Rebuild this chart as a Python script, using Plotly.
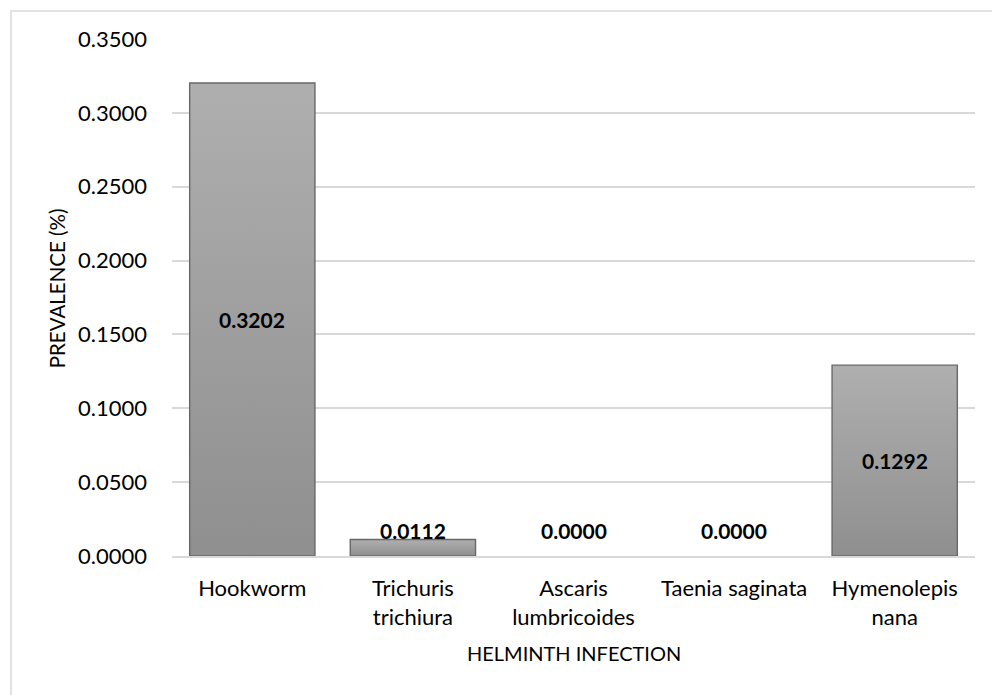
import plotly.graph_objects as go

# Prevalence of helminth infections
categories = ["Hookworm", "Trichuris<br>trichiura", "Ascaris<br>lumbricoides",
              "Taenia saginata", "Hymenolepis<br>nana"]
prevalence = [0.3202, 0.0112, 0.0000, 0.0000, 0.1292]

FONT = "Lato, Calibri, Carlito, sans-serif"
BAR_HALF = 0.39          # half the bar width in category units
LABEL_MIN = 0.0172       # lowest position for a value label inside / above a bar

fig = go.Figure()

# Bars drawn as filled polygons so they can carry a vertical grey gradient
for i, v in enumerate(prevalence):
    if v <= 0:
        continue
    fig.add_trace(go.Scatter(
        x=[i - BAR_HALF, i + BAR_HALF, i + BAR_HALF, i - BAR_HALF, i - BAR_HALF],
        y=[0, 0, v, v, 0],
        mode="lines",
        fill="toself",
        fillgradient=dict(type="vertical",
                          colorscale=[[0, "#8f8f8f"], [1, "#afafaf"]]),
        line=dict(color="#686868", width=1.4),
        hoverinfo="skip",
        showlegend=False,
    ))

# Value labels
for i, v in enumerate(prevalence):
    fig.add_annotation(
        x=i, y=max(v / 2, LABEL_MIN), xref="x", yref="y",
        text=f"<b>{v:.4f}</b>", showarrow=False,
        font=dict(family=FONT, size=21, color="#000000"),
    )

# Axis titles
fig.add_annotation(
    x=0.5, y=-0.188, xref="paper", yref="paper", yanchor="middle",
    text="HELMINTH INFECTION", showarrow=False,
    font=dict(family=FONT, size=20, color="#000000"),
)
fig.add_annotation(
    x=-0.143, y=0.518, xref="paper", yref="paper", xanchor="center",
    text="PREVALENCE (%)", textangle=-90, showarrow=False,
    font=dict(family=FONT, size=20.5, color="#000000"),
)

# Light frame around the chart area
fig.add_shape(type="rect", xref="paper", yref="paper",
              x0=-0.2005, x1=1.05, y0=-0.3, y1=1.054,
              line=dict(color="#d9d9d9", width=1.5), fillcolor="rgba(0,0,0,0)")

fig.update_layout(
    width=992, height=695,
    margin=dict(l=172, r=17, t=39, b=139),
    paper_bgcolor="#ffffff", plot_bgcolor="#ffffff",
    font=dict(family=FONT, size=22, color="#000000"),
    showlegend=False,
)
fig.update_xaxes(
    range=[-0.5, len(categories) - 0.5],
    tickmode="array", tickvals=list(range(len(categories))), ticktext=categories,
    showgrid=False, zeroline=False,
    showline=True, linecolor="#d9d9d9", linewidth=1.5,
    ticks="", tickfont=dict(family=FONT, size=22, color="#000000"),
    ticklabelstandoff=12,
    fixedrange=True,
)
fig.update_yaxes(
    range=[0, 0.35], dtick=0.05, tickformat=".4f",
    showgrid=True, gridcolor="#d9d9d9", gridwidth=1.5,
    zeroline=False, showline=False, ticks="",
    tickfont=dict(family=FONT, size=22, color="#000000"),
    ticklabelstandoff=24,
    fixedrange=True,
)

fig.write_html("out.html")
